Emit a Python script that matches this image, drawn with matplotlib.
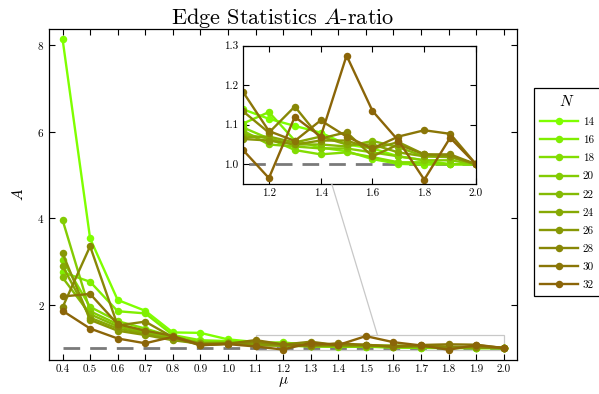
import numpy as np
import matplotlib.pyplot as plt
import matplotlib.colors as colors
from matplotlib.patches import Rectangle, ConnectionPatch

plt.rcParams['font.family'] = ['cmr10', 'DejaVu Serif']
plt.rcParams['mathtext.fontset'] = 'cm'
plt.rcParams['axes.unicode_minus'] = False
plt.rcParams['axes.formatter.use_mathtext'] = True

# coupling values and system sizes
mu = [0.4, 0.5, 0.6, 0.7, 0.8, 0.9, 1.0, 1.1, 1.2,
      1.3, 1.4, 1.5, 1.6, 1.7, 1.8, 1.9, 2.0]
N_values = [14, 16, 18, 20, 22, 24, 26, 28, 30, 32]

# A-ratio of the edge statistics, one list per N
A_14 = [8.14, 3.53, 2.11, 1.86, 1.36, 1.35, 1.20, 1.139, 1.115, 1.097, 1.080, 1.050, 1.040, 1.020, 1.010, 1.000, 1.0]
A_16 = [2.75, 2.53, 1.85, 1.80, 1.30, 1.18, 1.16, 1.103, 1.132, 1.060, 1.042, 1.033, 1.013, 1.001, 0.999, 1.000, 1.0]
A_18 = [3.03, 1.95, 1.62, 1.45, 1.26, 1.13, 1.13, 1.093, 1.065, 1.036, 1.025, 1.030, 1.018, 1.005, 1.005, 1.000, 1.0]
A_20 = [3.96, 1.85, 1.55, 1.40, 1.24, 1.12, 1.12, 1.085, 1.050, 1.045, 1.040, 1.040, 1.030, 1.020, 1.010, 1.010, 1.0]
A_22 = [2.63, 1.78, 1.50, 1.36, 1.22, 1.12, 1.12, 1.076, 1.065, 1.050, 1.050, 1.045, 1.059, 1.043, 1.020, 1.018, 1.0]
A_24 = [2.90, 1.70, 1.45, 1.33, 1.20, 1.11, 1.11, 1.068, 1.070, 1.055, 1.070, 1.050, 1.050, 1.030, 1.020, 1.020, 1.0]
A_26 = [3.19, 1.65, 1.40, 1.30, 1.18, 1.10, 1.11, 1.064, 1.060, 1.050, 1.060, 1.060, 1.039, 1.056, 1.025, 1.020, 1.0]
A_28 = [1.94, 3.35, 1.52, 1.61, 1.25, 1.06, 1.10, 1.134, 1.080, 1.146, 1.065, 1.081, 1.020, 1.050, 1.025, 1.025, 1.0]
A_30 = [2.19, 2.25, 1.55, 1.40, 1.28, 1.08, 1.10, 1.183, 1.084, 1.059, 1.111, 1.070, 1.040, 1.070, 1.086, 1.077, 1.0]
A_32 = [1.86, 1.45, 1.22, 1.11, 1.26, 1.07, 1.09, 1.036, 0.965, 1.120, 1.070, 1.275, 1.135, 1.060, 0.961, 1.067, 1.0]
A_all = [A_14, A_16, A_18, A_20, A_22, A_24, A_26, A_28, A_30, A_32]

# colour ramp from chartreuse to dark goldenrod
c0 = np.array(colors.to_rgb('#7fff00'))
c1 = np.array(colors.to_rgb('#8b6508'))
line_colors = [c0 + (c1 - c0) * t for t in np.linspace(0, 1, len(N_values))]

fig = plt.figure(figsize=(5.99, 3.94), dpi=100)
ax = fig.add_axes([0.0823, 0.087, 0.7807, 0.8386])
ax_in = fig.add_axes([0.4057, 0.533, 0.389, 0.351])

for a in (ax, ax_in):
    for n, vals, col in zip(N_values, A_all, line_colors):
        a.plot(mu, vals, '-o', color=col, lw=1.7, ms=5.4, mew=0, label=str(n))
    a.plot([mu[0], mu[-1]], [1, 1], color='#7a7a7a', lw=2,
           linestyle=(0, (6, 3.6)), zorder=1)
    a.tick_params(direction='in', top=True, right=True, labelsize=8,
                  length=4, width=0.8)
    for s in a.spines.values():
        s.set_linewidth(0.9)

ax.set_xlim(0.352, 2.048)
ax.set_ylim(0.73, 8.36)
ax.set_xticks(mu)
ax.set_xticklabels(['%.1f' % m for m in mu])
ax.set_yticks([2, 4, 6, 8])
ax.set_title('Edge Statistics $A$-ratio', fontsize=16, pad=4)
ax.set_xlabel(r'$\mu$', fontsize=11, labelpad=1)
ax.set_ylabel('$A$', fontsize=11, labelpad=8)

ax_in.set_xlim(1.1, 2.0)
ax_in.set_ylim(0.95, 1.3)
ax_in.set_xticks([1.2, 1.4, 1.6, 1.8, 2.0])
ax_in.set_yticks([1.0, 1.1, 1.2, 1.3])
ax_in.set_xticklabels(['1.2', '1.4', '1.6', '1.8', '2.0'])
ax_in.set_yticklabels(['1.0', '1.1', '1.2', '1.3'])

# lens box around the zoomed region and its connector
ax.add_patch(Rectangle((1.1, 0.95), 0.9, 0.35, fill=False,
                       edgecolor='#c8c8c8', lw=0.9, zorder=0.5))
con = ConnectionPatch(xyA=(1.542, 1.3), coordsA=ax.transData,
                      xyB=(0.381, 0.0), coordsB=ax_in.transAxes,
                      color='#c8c8c8', lw=0.9)
fig.add_artist(con)

handles, labels = ax.get_legend_handles_labels()
leg = fig.legend(handles[:len(N_values)], labels[:len(N_values)],
                 title='$N$', loc='upper left',
                 bbox_to_anchor=(0.8915, 0.777), borderaxespad=0,
                 fontsize=8, title_fontsize=11, frameon=True, fancybox=False,
                 framealpha=1, edgecolor='black', labelspacing=0.75,
                 handlelength=3.4, handletextpad=0.45, borderpad=0.55)
leg.get_frame().set_linewidth(0.9)

fig.savefig('out.png', dpi=100)
